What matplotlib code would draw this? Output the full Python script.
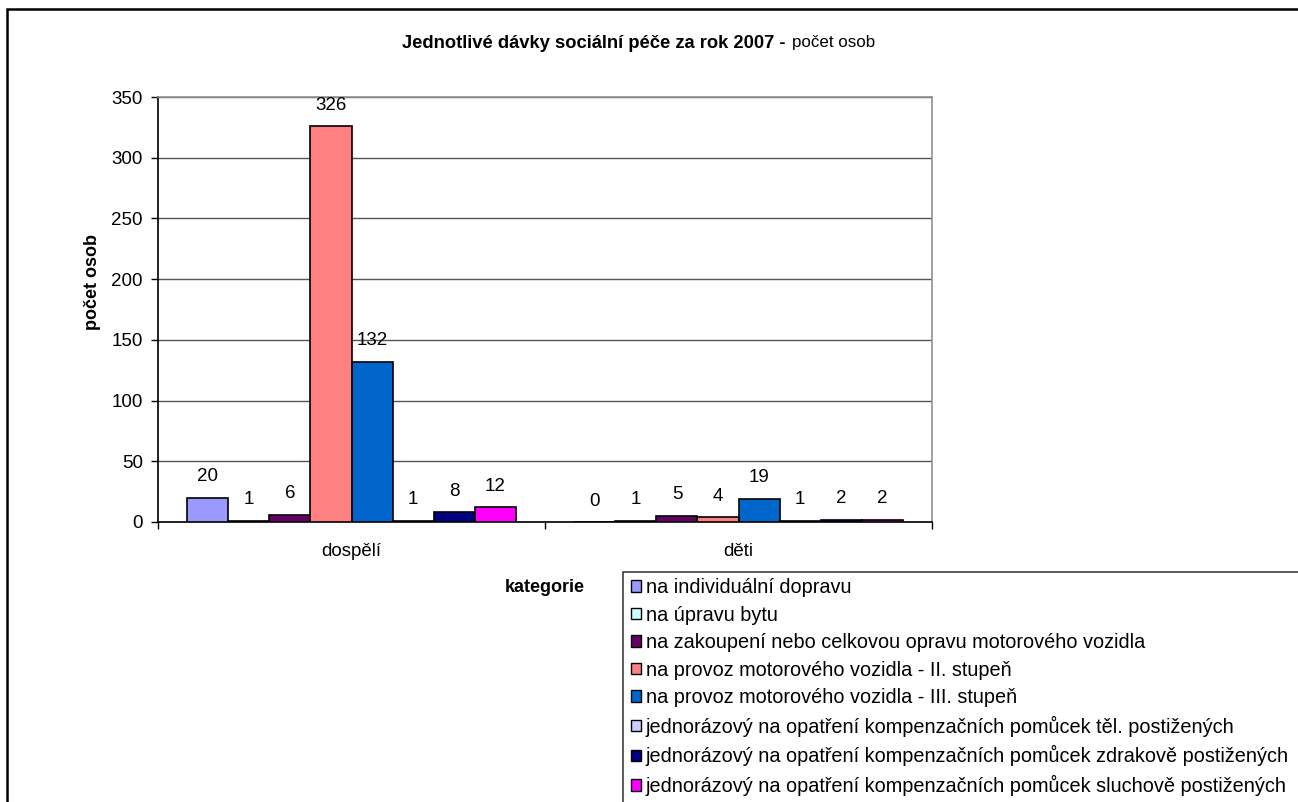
import matplotlib
matplotlib.use("Agg")
import matplotlib.pyplot as plt
from matplotlib.patches import Patch, Rectangle
import numpy as np

plt.rcParams['font.family'] = ['Liberation Sans', 'DejaVu Sans']

# data
categories = ["dospělí", "děti"]
series_names = [
    "na individuální dopravu",
    "na úpravu bytu",
    "na zakoupení nebo celkovou opravu motorového vozidla",
    "na provoz motorového vozidla - II. stupeň",
    "na provoz motorového vozidla - III. stupeň",
    "jednorázový na opatření kompenzačních pomůcek těl. postižených",
    "jednorázový na opatření kompenzačních pomůcek zdrakově postižených",
    "jednorázový na opatření kompenzačních pomůcek sluchově postižených",
]
values = [
    [20, 0],
    [1, 1],
    [6, 5],
    [326, 4],
    [132, 19],
    [1, 1],
    [8, 2],
    [12, 2],
]
colors = ["#9999FF", "#CCFFFF", "#660066", "#FF8080",
          "#0066CC", "#CCCCFF", "#000080", "#FF00FF"]
yticks = [0, 50, 100, 150, 200, 250, 300, 350]

W, H = 1298, 802
fig = plt.figure(figsize=(W / 100, H / 100), dpi=100)

# outer chart border (cut off at right and bottom)
fig.patches.append(Rectangle((7 / W, -0.05), 1.1, 1 - 9 / H + 0.05,
                             transform=fig.transFigure, fill=False,
                             edgecolor="black", linewidth=1.8))

ax = fig.add_axes([158 / W, 1 - 522 / H, (932 - 158) / W, (522 - 97) / H])

x = np.arange(len(categories))
bw = 0.106
n = len(series_names)
for i, (name, vals, c) in enumerate(zip(series_names, values, colors)):
    pos = x + (i - (n - 1) / 2) * bw
    bars = ax.bar(pos, vals, width=bw, color=c, edgecolor="black",
                  linewidth=1.2, zorder=3)
    for b, v in zip(bars, vals):
        ax.annotate(str(v), (b.get_x() + b.get_width() / 2, v),
                    xytext=(0, 9), textcoords="offset points",
                    ha="center", va="bottom", fontsize=13.5)

ax.set_xlim(-0.5, 1.5)
ax.set_ylim(0, 350)
ax.set_yticks(yticks)
ax.tick_params(axis="y", labelsize=13.5, length=5, width=1, direction="out", pad=6)
ax.set_xticks([-0.5, 0.5, 1.5])
ax.set_xticklabels([])
ax.set_xticks(x, minor=True)
ax.set_xticklabels(categories, minor=True, fontsize=13.5)
ax.tick_params(axis="x", which="major", length=5, width=1, direction="out")
ax.tick_params(axis="x", which="minor", length=0, pad=15)
ax.yaxis.grid(True, color="#555555", linewidth=1, zorder=0)
ax.set_axisbelow(True)

for s in ["top", "right"]:
    ax.spines[s].set_color("#909090")
    ax.spines[s].set_linewidth(1.2)
ax.spines["left"].set_linewidth(1.2)
ax.spines["bottom"].set_linewidth(1.2)

# axis titles
fig.text(93 / W, 1 - 282 / H, "počet osob", rotation=90, fontsize=13,
         fontweight="bold", ha="center", va="center")
fig.text(545 / W, 1 - 587 / H, "kategorie", fontsize=13,
         fontweight="bold", ha="center", va="center")

# title: bold part + normal part
fig.canvas.draw()
t1 = fig.text(402 / W, 1 - 43 / H, "Jednotlivé dávky sociální péče za rok 2007 -",
              fontsize=13.2, fontweight="bold", ha="left", va="center")
r = fig.canvas.get_renderer()
bb = t1.get_window_extent(renderer=r)
fig.text((bb.x1 + 6) / W, 1 - 43 / H, "počet osob", fontsize=12.2,
         ha="left", va="center")

# legend with its box running off the figure
fig.patches.append(Rectangle((623 / W, -0.05), 1.0, 1 - 572 / H + 0.05,
                             transform=fig.transFigure, fill=False,
                             edgecolor="#404040", linewidth=1.2))
handles = [Patch(facecolor=c, edgecolor="black", linewidth=1) for c in colors]
fig.legend(handles, series_names, loc="upper left",
           bbox_to_anchor=(631 / W, 1 - 578 / H), frameon=False,
           fontsize=14.3, handlelength=0.5, handleheight=0.5,
           handletextpad=0.25, labelspacing=0.43, borderaxespad=0,
           borderpad=0)

fig.savefig("out.png", dpi=100)
